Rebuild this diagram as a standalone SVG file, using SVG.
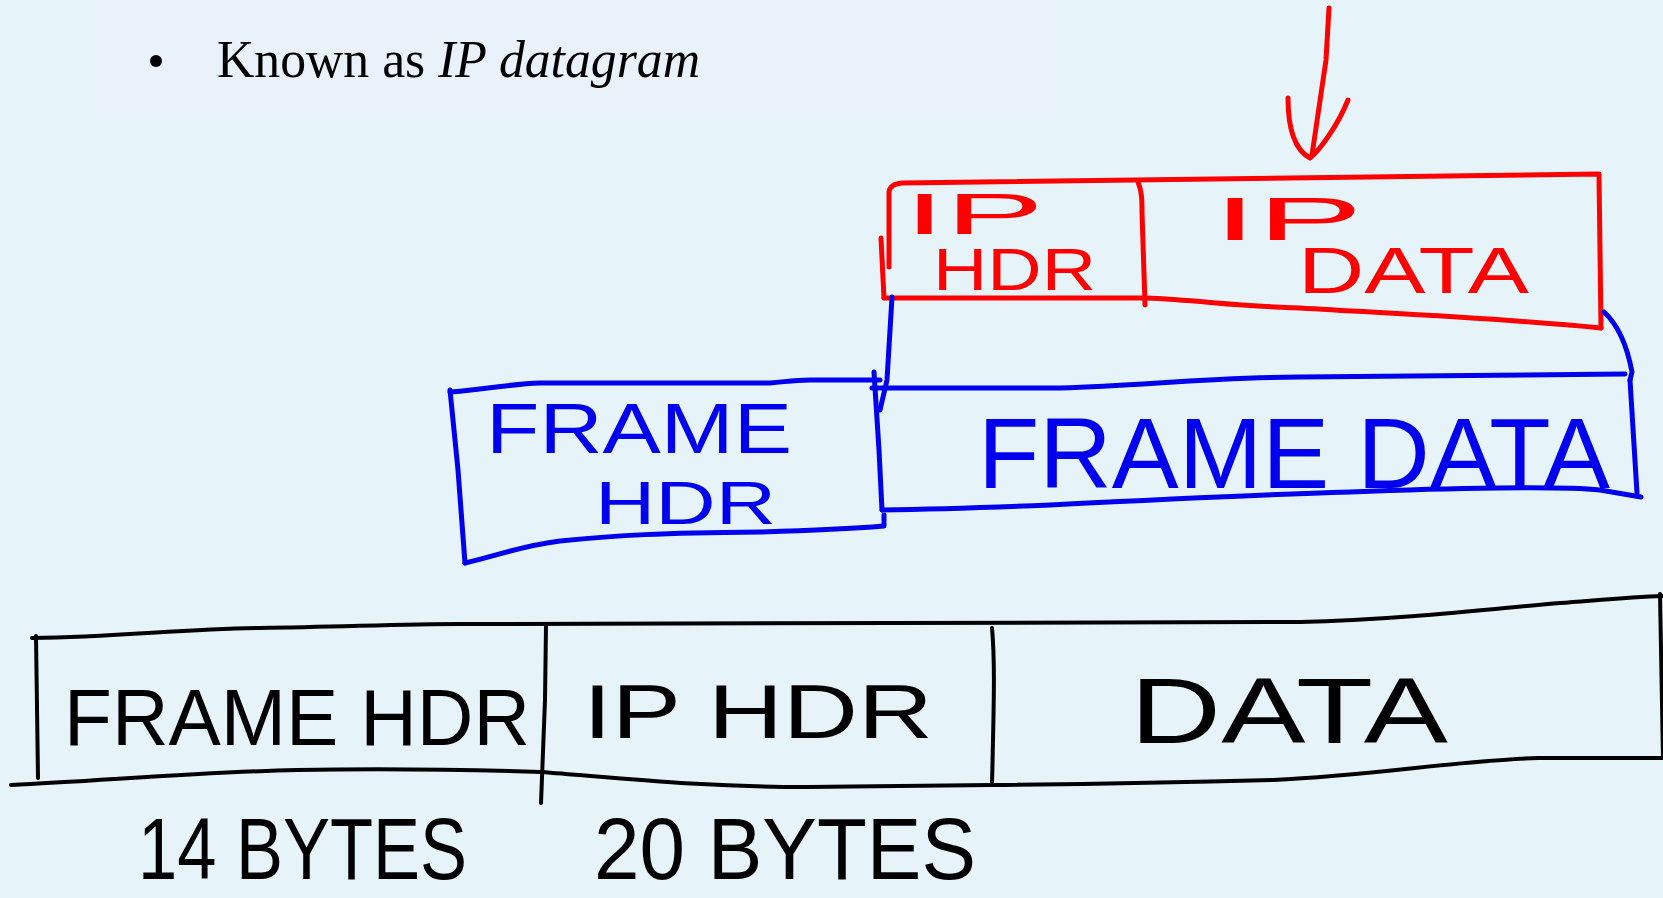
<svg xmlns="http://www.w3.org/2000/svg" width="1663" height="898" viewBox="0 0 1663 898">
  <style>
    .ink { fill: none; stroke-linecap: round; stroke-linejoin: round; }
    .red { stroke: #ff0000; stroke-width: 5; }
    .blue { stroke: #0000ee; stroke-width: 5; }
    .blk { stroke: #000000; stroke-width: 4; }
    .hand { font-family: "Liberation Sans", "DejaVu Sans", sans-serif; }
    .tr { fill: #ff0000; }
    .tb { fill: #0000ee; }
    .tk { fill: #000000; }
  </style>
  <rect x="0" y="0" width="1663" height="898" fill="#e6f4fa"/>
  <rect x="95" y="0" width="960" height="116" fill="#e9f1fb"/>

  <g id="bullet">
    <circle cx="156" cy="61" r="6" fill="#000"/>
    <text x="217" y="77" font-family="Liberation Serif, serif" font-size="53" fill="#000" textLength="483" lengthAdjust="spacingAndGlyphs">Known as <tspan font-style="italic">IP datagram</tspan></text>
  </g>

  <g id="ip-datagram">
    <path class="ink red" d="M889,267 L889,192 Q890,184 902,183 L1599,174 L1601,328"/>
    <path class="ink red" d="M881,238 L884,298"/>
    <path class="ink red" d="M884,298 L1145,298 C1200,300 1230,306 1300,308 C1400,314 1500,318 1601,328"/>
    <path class="ink red" d="M1138,182 C1142,192 1142,200 1142,212 L1145,305"/>
    <text class="hand tr" font-size="58"><tspan x="904" y="234" textLength="140" lengthAdjust="spacingAndGlyphs">IP</tspan><tspan x="933" y="290" font-size="60" textLength="163" lengthAdjust="spacingAndGlyphs">HDR</tspan></text>
    <text class="hand tr" font-size="62"><tspan x="1213" y="240" textLength="150" lengthAdjust="spacingAndGlyphs">IP</tspan><tspan x="1298" y="293" font-size="64" textLength="231" lengthAdjust="spacingAndGlyphs">DATA</tspan></text>
  </g>

  <g id="frame-hdr">
    <path class="ink blue" d="M450,392 C480,390 510,384 540,383 L770,383 C785,382 792,380 810,380 L880,380"/>
    <path class="ink blue" d="M450,390 L458,470 L465,563"/>
    <path class="ink blue" d="M465,563 C500,555 520,546 560,541 C620,535 660,533 760,532 C830,530 860,528 884,526 L884,515"/>
    <text class="hand tb" font-size="70"><tspan x="486" y="453" textLength="306" lengthAdjust="spacingAndGlyphs">FRAME</tspan><tspan x="595" y="524" font-size="62" textLength="181" lengthAdjust="spacingAndGlyphs">HDR</tspan></text>
  </g>

  <g id="frame-data">
    <path class="ink blue" d="M872,388 L1060,388 C1150,385 1200,378 1300,377 L1625,374"/>
    <path class="ink blue" d="M874,372 L879,450 L882,510"/>
    <path class="ink blue" d="M1630,380 L1637,493"/>
    <path class="ink blue" d="M882,510 C950,509 1000,507 1050,505 C1150,500 1250,495 1350,492 C1450,488 1560,486 1600,490 L1641,497"/>
    <text class="hand tb" x="978" y="488" font-size="100" textLength="632" lengthAdjust="spacingAndGlyphs">FRAME DATA</text>
  </g>

  <g id="frame">
    <path class="ink blk" d="M32,638 C120,637 180,629 260,628 C340,627 400,624 460,624 L1300,622 C1400,620 1500,608 1560,603 C1600,600 1630,597 1663,596"/>
    <path class="ink blk" d="M11,785 C100,781 200,772 297,770 C400,768 480,770 541,772 C620,778 700,787 806,787 L992,785 C1100,784 1200,782 1273,780 C1380,775 1450,761 1538,758 L1663,758"/>
    <path class="ink blk" d="M36,636 L38,778"/>
    <path class="ink blk" d="M546,625 L545,700 L541,803"/>
    <path class="ink blk" d="M992,628 C995,660 994,700 992,785"/>
    <path class="ink blk" d="M1660,594 L1663,758"/>
    <text class="hand tk" x="64" y="745" font-size="80" textLength="466" lengthAdjust="spacingAndGlyphs">FRAME HDR</text>
    <text class="hand tk" x="583" y="738" font-size="76" textLength="350" lengthAdjust="spacingAndGlyphs">IP HDR</text>
    <text class="hand tk" x="1130" y="743" font-size="92" textLength="318" lengthAdjust="spacingAndGlyphs">DATA</text>
    <text class="hand tk" x="138" y="879" font-size="88" textLength="329" lengthAdjust="spacingAndGlyphs">14 BYTES</text>
    <text class="hand tk" x="594" y="879" font-size="88" textLength="382" lengthAdjust="spacingAndGlyphs">20 BYTES</text>
  </g>

  <g id="connectors">
    <path class="ink red" d="M1329,8 L1326,60 L1312,155"/>
    <path class="ink red" d="M1288,98 C1288,130 1295,150 1310,158 M1348,100 C1338,125 1320,150 1310,158"/>
    <path class="ink blue" d="M892,297 L887,380 L880,410"/>
    <path class="ink blue" d="M1604,312 C1615,322 1626,340 1632,372 L1630,380"/>
  </g>
</svg>
